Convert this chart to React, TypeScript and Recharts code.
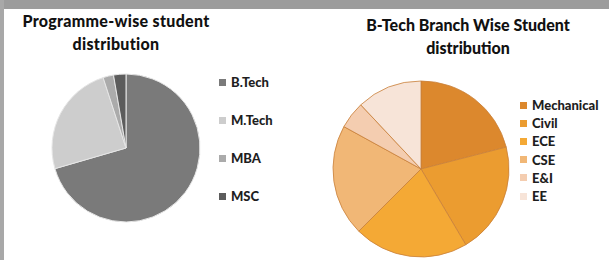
import React from "react";
import { PieChart, Pie, Cell, Legend } from "recharts";

// programme-wise split (percent of students)
const programmes = ["B.Tech", "M.Tech", "MBA", "MSC"];
const programmeShare = [70.5, 24.5, 2.3, 2.7];
const programmeColors = ["#7a7a7a", "#cdcdcd", "#ababab", "#5c5c5c"];

// b-tech branch split (percent)
const branches = ["Mechanical", "Civil", "ECE", "CSE", "E&I", "EE"];
const branchShare = [21, 20.5, 21, 20.5, 5, 12];
const branchColors = ["#dc882d", "#eb9c30", "#f4a935", "#f1b776", "#f4cdb0", "#f7e4d8"];

const programmeData = programmes.map((name, i) => ({ name, value: programmeShare[i] }));
const branchData = branches.map((name, i) => ({ name, value: branchShare[i] }));

const font = "Lato, 'Open Sans', sans-serif";

// legend rows come straight from the arrays so the order stays as in the source
function makeLegend(names: string[], colors: string[], rowHeight: number) {
  return () => (
    <div style={{ fontFamily: font, fontWeight: 900, fontSize: 13, color: "#1e1e1e" }}>
      {names.map((n, i) => (
        <div key={n} style={{ height: rowHeight, display: "flex", alignItems: "center" }}>
          <span style={{ width: 7, height: 7, background: colors[i], marginRight: 5, display: "inline-block" }} />
          {n}
        </div>
      ))}
    </div>
  );
}

const titleStyle: React.CSSProperties = {
  position: "absolute",
  fontFamily: font,
  fontWeight: 900,
  fontSize: 16,
  lineHeight: "23px",
  color: "#111",
  textAlign: "center",
  whiteSpace: "nowrap",
};

export default function App() {
  return (
    <div style={{ position: "absolute", left: 0, top: 0, width: 609, height: 260, background: "#fff", overflow: "hidden" }}>
      <div style={{ position: "absolute", left: 0, top: 0, width: 609, height: 9, background: "#9c9c9c" }} />
      <div style={{ position: "absolute", left: 0, top: 0, width: 4, height: 260, background: "#a8a8a8" }} />

      <div style={{ ...titleStyle, left: 16, top: 9, width: 200, letterSpacing: 0.3 }}>
        Programme-wise student
        <br />
        distribution
      </div>
      <div style={{ ...titleStyle, left: 358, top: 13, width: 220 }}>
        B-Tech Branch Wise Student
        <br />
        distribution
      </div>

      <div style={{ position: "absolute", left: 0, top: 0 }}>
        <PieChart width={300} height={260}>
          <Pie
            data={programmeData}
            dataKey="value"
            nameKey="name"
            cx={121}
            cy={143}
            outerRadius={74}
            startAngle={90}
            endAngle={-270}
            stroke="#e6e6e6"
            strokeWidth={1}
            isAnimationActive={false}
          >
            {programmeData.map((d, i) => (
              <Cell key={d.name} fill={programmeColors[i]} />
            ))}
          </Pie>
          <Legend
            layout="vertical"
            content={makeLegend(programmes, programmeColors, 38)}
            wrapperStyle={{ left: 219, top: 63, width: 80 }}
          />
        </PieChart>
      </div>

      <div style={{ position: "absolute", left: 300, top: 0 }}>
        <PieChart width={309} height={260}>
          <Pie
            data={branchData}
            dataKey="value"
            nameKey="name"
            cx={116}
            cy={164}
            outerRadius={88}
            startAngle={90}
            endAngle={-270}
            stroke="#c9803a"
            strokeWidth={0.8}
            isAnimationActive={false}
          >
            {branchData.map((d, i) => (
              <Cell key={d.name} fill={branchColors[i]} />
            ))}
          </Pie>
          <Legend
            layout="vertical"
            content={makeLegend(branches, branchColors, 18.2)}
            wrapperStyle={{ left: 220, top: 96, width: 100 }}
          />
        </PieChart>
      </div>
    </div>
  );
}
